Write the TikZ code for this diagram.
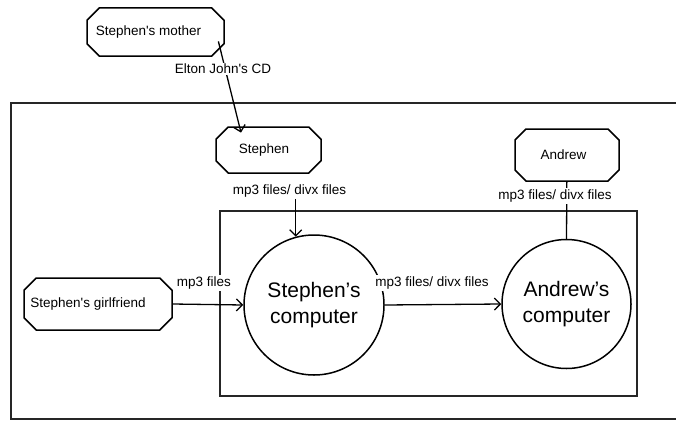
\documentclass[tikz,border=0pt]{standalone}
\usepackage{fontspec}
\setmainfont{Liberation Sans}
\usetikzlibrary{shapes.misc,arrows.meta}
\begin{document}
\begin{tikzpicture}[x=1pt,y=-1pt,
  every node/.style={font=\fontsize{13.5}{16}\selectfont, inner sep=1pt},
  actor/.style={draw, line width=1.5pt, chamfered rectangle, chamfered rectangle xsep=7pt, chamfered rectangle ysep=6pt, inner sep=0pt},
  proc/.style={draw, line width=1.5pt, circle, inner sep=0pt, align=center, font=\fontsize{21}{26}\selectfont},
  lbl/.style={fill=white, inner sep=1.5pt},
  flow/.style={line width=1.3pt, -{Straight Barb[length=6pt,width=12pt,line width=1.3pt]}},
  plain/.style={line width=1.3pt},
  frame/.style={line width=1.6pt, draw=black!85}]
\useasboundingbox (0,0) rectangle (676,420);
% boundaries
\coordinate (o1) at (11,103);
\coordinate (o2) at (676,103);
\coordinate (o3) at (11,419);
\coordinate (o4) at (676,419);
\draw[frame] (o2) -- (o1) -- (o3) -- (o4);
\draw[frame] (220,211) rectangle (637,396);
% actors
\node[actor, minimum width=137pt, minimum height=48pt] (mother) at (155.5,32) {\hspace*{-14pt}Stephen\textquotesingle s mother};
\node[actor, minimum width=105pt, minimum height=46pt] (stephen) at (268.5,150) {\hspace*{-9pt}Stephen};
\node[actor, minimum width=104pt, minimum height=52pt] (andrew) at (567,155) {\hspace*{-7pt}Andrew};
\node[actor, minimum width=148pt, minimum height=52pt] (gf) at (98,304) {\hspace*{-20pt}Stephen\textquotesingle s girlfriend};
% processes
\node[proc, minimum size=140pt] (sc) at (314,305) {Stephen’s\\computer};
\node[proc, minimum size=129pt] (ac) at (566.5,304) {Andrew’s\\computer};
% connectors
\draw[flow] (mother.south east) ++(0,-9) coordinate (mstart) -- (stephen.north west -| 241,0) coordinate (send);
\draw[plain] (andrew) -- (ac.north);
\node[lbl] (lblcd) at (223,69) {Elton John\textquotesingle s CD};
\node[lbl] (lbl1) at (289.5,191) {mp3 files/ divx files};
\node[lbl] (lbl2) at (555,196) {mp3 files/ divx files};
\node[lbl] (lbl3) at (204,283) {mp3 files};
\node[lbl] (lbl4) at (432,283) {mp3 files/ divx files};
\draw[flow] (lbl1.south -| sc.105) -- (sc.105);
\draw[flow] (gf.east) -- (sc.west);
\draw[flow] (sc.east) -- (ac.west);
\end{tikzpicture}
\end{document}
